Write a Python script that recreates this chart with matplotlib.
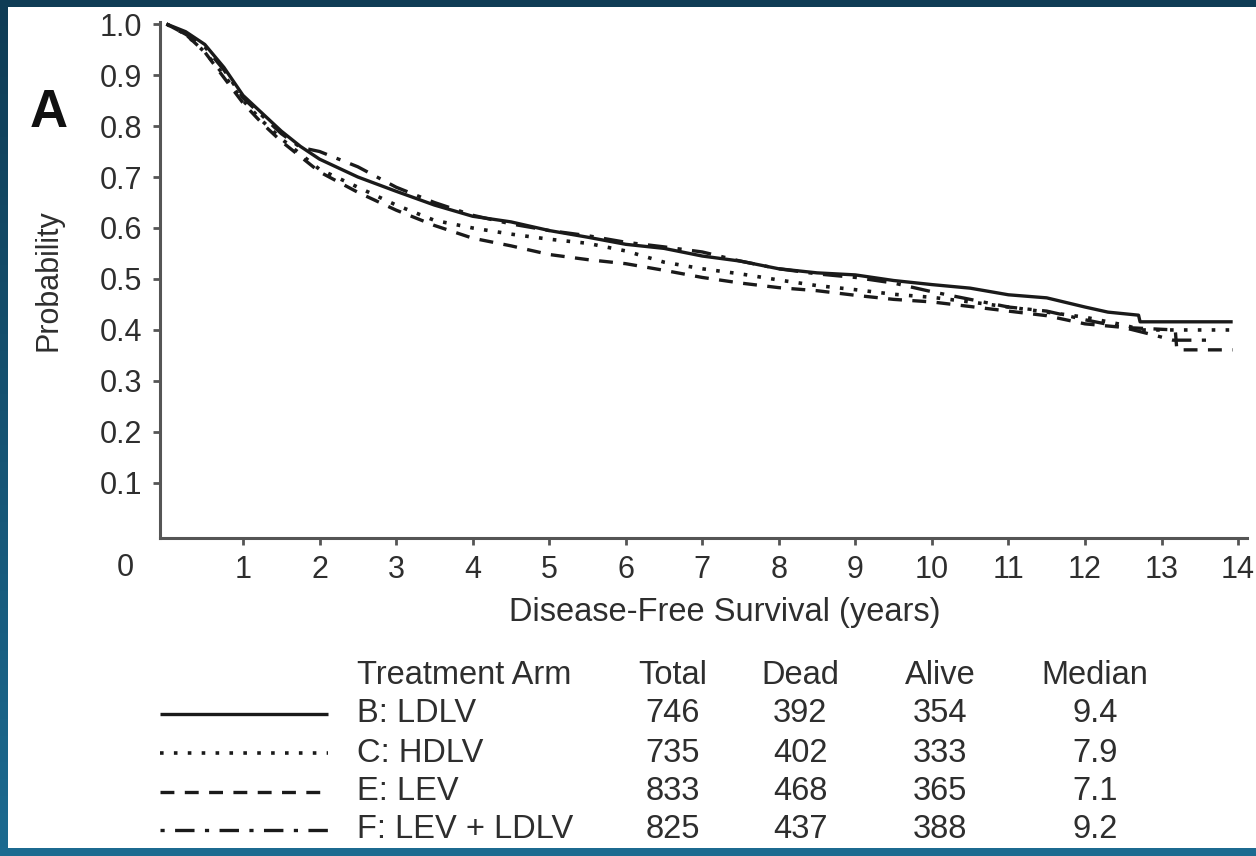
import numpy as np
import matplotlib
matplotlib.use("Agg")
import matplotlib.pyplot as plt
from matplotlib.lines import Line2D
from matplotlib.patches import Rectangle

# ── Dados ───────────────────────────────────────────────────────────────────
t_b = [0, 0.25, 0.5, 0.75, 1.0, 1.25, 1.5, 1.75, 2.0, 2.5, 3.0, 3.5, 4.0, 4.5,
       5.0, 5.5, 6.0, 6.5, 7.0, 7.5, 8.0, 8.5, 9.0, 9.5, 10.0, 10.5, 11.0,
       11.5, 12.0, 12.3, 12.7, 12.72, 13.93]
p_b = [1.0, 0.985, 0.96, 0.915, 0.86, 0.825, 0.79, 0.76, 0.735, 0.70, 0.672,
       0.645, 0.623, 0.612, 0.595, 0.582, 0.568, 0.56, 0.545, 0.535, 0.52,
       0.512, 0.508, 0.497, 0.489, 0.482, 0.469, 0.463, 0.445, 0.435, 0.429,
       0.416, 0.416]

t_c = [0, 0.25, 0.5, 0.75, 1.0, 1.25, 1.5, 1.75, 2.0, 2.5, 3.0, 3.5, 4.0, 4.5,
       5.0, 5.5, 6.0, 6.5, 7.0, 7.5, 8.0, 8.5, 9.0, 9.5, 10.0, 10.5, 11.0,
       11.5, 12.0, 12.5, 12.75, 13.9]
p_c = [1.0, 0.98, 0.945, 0.90, 0.85, 0.81, 0.775, 0.745, 0.715, 0.68, 0.645,
       0.615, 0.60, 0.588, 0.578, 0.57, 0.555, 0.533, 0.52, 0.51, 0.498,
       0.487, 0.479, 0.47, 0.464, 0.455, 0.445, 0.435, 0.425, 0.41, 0.40, 0.40]

t_e = [0, 0.25, 0.5, 0.75, 1.0, 1.25, 1.5, 1.75, 2.0, 2.5, 3.0, 3.5, 4.0, 4.5,
       5.0, 5.5, 6.0, 6.5, 7.0, 7.5, 8.0, 8.5, 9.0, 9.5, 10.0, 10.5, 11.0,
       11.5, 12.0, 12.5, 13.18, 13.2, 13.93]
p_e = [1.0, 0.98, 0.945, 0.895, 0.845, 0.805, 0.77, 0.74, 0.71, 0.67, 0.635,
       0.605, 0.58, 0.565, 0.548, 0.538, 0.53, 0.517, 0.503, 0.492, 0.483,
       0.477, 0.468, 0.46, 0.455, 0.446, 0.437, 0.428, 0.412, 0.405, 0.40,
       0.361, 0.361]

t_f = [0, 0.25, 0.5, 0.75, 1.0, 1.25, 1.5, 1.75, 2.0, 2.5, 3.0, 3.5, 4.0, 4.5,
       5.0, 5.5, 6.0, 6.5, 7.0, 7.5, 8.0, 8.5, 9.0, 9.5, 10.0, 10.5, 11.0,
       11.5, 12.0, 12.5, 12.9, 13.15, 13.7]
p_f = [1.0, 0.98, 0.955, 0.91, 0.855, 0.82, 0.785, 0.758, 0.75, 0.72, 0.68,
       0.65, 0.625, 0.608, 0.595, 0.585, 0.572, 0.563, 0.553, 0.535, 0.52,
       0.51, 0.503, 0.492, 0.475, 0.46, 0.445, 0.437, 0.42, 0.405, 0.39, 0.38,
       0.38]

arms   = ["B: LDLV", "C: HDLV", "E: LEV", "F: LEV + LDLV"]
total  = [746, 735, 833, 825]
dead   = [392, 402, 468, 437]
alive  = [354, 333, 365, 388]
median = [9.4, 7.9, 7.1, 9.2]
headers = ["Treatment Arm", "Total", "Dead", "Alive", "Median"]

x_ticks = list(range(1, 15))
y_ticks = [0.1, 0.2, 0.3, 0.4, 0.5, 0.6, 0.7, 0.8, 0.9, 1.0]

# ── Estilo ─────────────────────────────────────────────────────────────────
plt.rcParams["font.family"] = ["Liberation Sans", "DejaVu Sans"]
plt.rcParams["lines.scale_dashes"] = False
TXT = "#2e2e2e"
LINE = "#1a1a1a"
AXC = "#555555"
FS = 22      # ticks
FS2 = 23.5   # rótulos e tabela

styles = [
    dict(linestyle="-", linewidth=2.4),
    dict(linestyle=(0, (2.6, 7.4)), linewidth=2.6),
    dict(linestyle=(0, (10, 7.5)), linewidth=2.4),
    dict(linestyle=(0, (3, 7.5, 14, 7.5)), linewidth=2.4),
]

W, H = 1256, 856
fig = plt.figure(figsize=(W / 100, H / 100), dpi=100)

def fx(px):
    return px / W

def fy(py):
    return 1 - py / H

# moldura azul
bg = fig.add_axes([0, 0, 1, 1], zorder=-2)
grad = np.linspace(0, 1, 100).reshape(-1, 1)
bg.imshow(grad, extent=[0, 1, 0, 1], aspect="auto", origin="upper",
          cmap=matplotlib.colors.LinearSegmentedColormap.from_list(
              "frame", ["#0f3c55", "#1c6a90"]))
bg.set_axis_off()
fig.patches.append(Rectangle((fx(8), fy(848)), 1 - fx(8), fy(7) - fy(848),
                             transform=fig.transFigure, facecolor="white",
                             edgecolor="none", zorder=-1))

# ── Eixos ──────────────────────────────────────────────────────────────────
ax = fig.add_axes([fx(160), fy(538), fx(1247) - fx(160), fy(22) - fy(538)])
ax.patch.set_alpha(0)
series = [(t_b, p_b), (t_c, p_c), (t_e, p_e), (t_f, p_f)]
for (t, p), st in zip(series, styles):
    ax.plot(t, p, color=LINE, solid_capstyle="butt", dash_capstyle="butt", **st)

ax.set_xlim(-0.085, 14.117)
ax.set_ylim(-0.008, 1.004)
ax.set_xticks(x_ticks)
ax.set_yticks(y_ticks)
ax.set_xticklabels([str(v) for v in x_ticks])
ax.set_yticklabels([f"{v:.1f}" for v in y_ticks])
ax.tick_params(axis="both", colors=AXC, labelcolor=TXT, labelsize=FS,
               length=5, width=2, direction="out")
ax.tick_params(axis="x", pad=7)
ax.tick_params(axis="y", pad=8)
for s in ["top", "right"]:
    ax.spines[s].set_visible(False)
for s in ["bottom", "left"]:
    ax.spines[s].set_color(AXC)
    ax.spines[s].set_linewidth(2.2)

fig.text(fx(125), fy(568), "0", fontsize=FS, color=TXT, ha="center", va="center")
fig.text(fx(725), fy(612), "Disease-Free Survival (years)", fontsize=FS2,
         color=TXT, ha="center", va="center")
fig.text(fx(48), fy(280), "Probability", fontsize=FS, color=TXT,
         ha="center", va="center", rotation=90)
fig.text(fx(49), fy(113), "A", fontsize=38, fontweight="bold", color="#111111",
         ha="center", va="center")

# ── Tabela / legenda ─────────────────────────────────────────────────────────
col_x = [357, 673, 800, 940, 1095]
row_y = [675, 714, 753, 792, 830]
fig.text(fx(col_x[0]), fy(row_y[0]), headers[0], fontsize=FS2, color=TXT,
         ha="left", va="center")
for h, cx in zip(headers[1:], col_x[1:]):
    fig.text(fx(cx), fy(row_y[0]), h, fontsize=FS2, color=TXT, ha="center", va="center")

for i, st in enumerate(styles):
    yy = fy(row_y[i + 1])
    fig.add_artist(Line2D([fx(160), fx(328)], [yy, yy], transform=fig.transFigure,
                          color=LINE, solid_capstyle="butt", dash_capstyle="butt", **st))
    vals = [total[i], dead[i], alive[i], f"{median[i]:.1f}"]
    fig.text(fx(col_x[0]), yy, arms[i], fontsize=FS2, color=TXT, ha="left", va="center")
    for v, cx in zip(vals, col_x[1:]):
        fig.text(fx(cx), yy, str(v), fontsize=FS2, color=TXT, ha="center", va="center")

plt.savefig("out.png", dpi=100)
